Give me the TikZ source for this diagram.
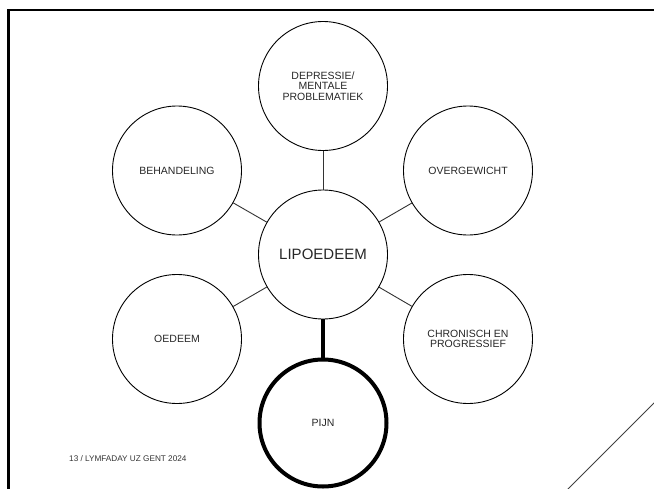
\documentclass[tikz,border=0pt]{standalone}
\usepackage{fontspec}
\setmainfont{Liberation Sans}
\begin{document}
\begin{tikzpicture}[x=1pt,y=-1pt,
  bubble/.style={circle,draw=black,line width=0.9pt,minimum size=129pt,inner sep=0pt,
    align=center,font=\fontsize{10.5}{10.6}\selectfont,text=black!85},
  thinlink/.style={draw=black!80,line width=0.9pt},
  thicklink/.style={draw=black,line width=4pt},
  framestyle/.style={draw=black,line width=2.5pt}]
\useasboundingbox (0,0) rectangle (654,488);
% frame
\coordinate (fa) at (8.5,495);
\coordinate (fb) at (8.5,9.8);
\coordinate (fc) at (660,9.8);
\draw[framestyle] (fa) -- (fb) -- (fc);
% nodes
\node[bubble] (dep) at (323,86) {DEPRESSIE/\\MENTALE\\PROBLEMATIEK};
\node[bubble] (beh) at (177,170.5) {BEHANDELING};
\node[bubble] (ove) at (468,170.5) {OVERGEWICHT};
\node[bubble,font=\fontsize{15}{16}\selectfont] (lip) at (323,254.5) {LIPOEDEEM};
\node[bubble] (oed) at (177,339) {OEDEEM};
\node[bubble] (chr) at (468,339) {CHRONISCH EN\\PROGRESSIEF};
\node[bubble,line width=4pt,minimum size=127pt] (pij) at (323,423) {PIJN};
% connectors
\draw[thinlink] (lip) -- (dep);
\draw[thinlink] (lip) -- (beh);
\draw[thinlink] (lip) -- (ove);
\draw[thinlink] (lip) -- (oed);
\draw[thinlink] (lip) -- (chr);
\draw[thicklink] (lip) -- (pij);
% diagonal line
\coordinate (d1) at (656,401);
\coordinate (d2) at (567,490);
\draw[draw=black!75,line width=0.9pt] (d1) -- (d2);
% footer
\node[anchor=west,inner sep=0pt,font=\fontsize{8.2}{9}\selectfont,text=black!80] (foot) at (69,459) {13 / LYMFADAY UZ GENT 2024};
\end{tikzpicture}
\end{document}
